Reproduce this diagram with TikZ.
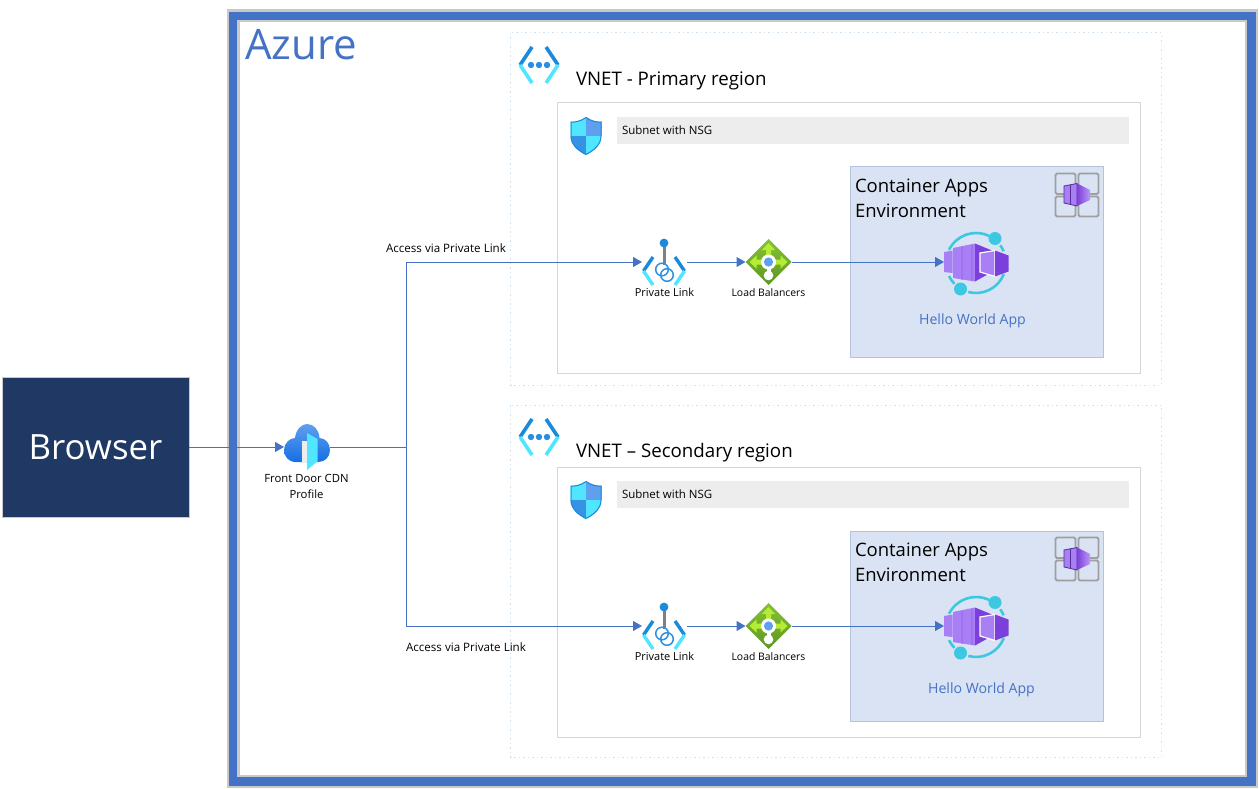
\documentclass[tikz,border=0pt]{standalone}
\usepackage{fontspec}
\setmainfont{Open Sans}
\usetikzlibrary{arrows.meta}
\definecolor{azblue}{HTML}{4472C4}
\definecolor{navybox}{HTML}{1F3864}
\definecolor{framegray}{HTML}{C9C9C9}
\definecolor{linegray}{HTML}{D6D6D6}
\definecolor{dotblue}{HTML}{CFE2F3}
\definecolor{envfill}{HTML}{DAE3F3}
\definecolor{envline}{HTML}{B4C2DE}
\definecolor{barfill}{HTML}{EDEDED}
\definecolor{iconblue}{HTML}{1B8ADB}
\definecolor{iconmid}{HTML}{5EA0EF}
\definecolor{iconcyan}{HTML}{50E6FF}
\definecolor{ringcyan}{HTML}{3BC8E0}
\definecolor{podlight}{HTML}{A97FF5}
\definecolor{poddark}{HTML}{7B3FDB}
\definecolor{lbtop}{HTML}{86C232}
\definecolor{lbbottom}{HTML}{5E9624}
\definecolor{lbarrow}{HTML}{B4EC36}
\newcommand{\fsize}[2]{\fontsize{#1}{#2}\selectfont}
\tikzset{
  x=1pt, y=-1pt,
  every node/.style = {inner sep=0pt, outer sep=0pt},
  flow/.style = {draw=azblue, line width=1pt},
  arrowed/.style = {flow, -{Triangle[length=9pt,width=10pt]}},
  iconbox/.style = {minimum height=1pt},
  small/.style = {font=\fsize{11}{16}, align=center},
  subhead/.style = {font=\fsize{18.5}{25}, align=left},
  vneticon/.pic = {
    \draw[iconblue, line width=3.6pt] (-7,-18) -- (-19,0) (7,-18) -- (19,0);
    \draw[iconcyan, line width=3.6pt] (-19,0) -- (-7,18) (19,0) -- (7,18);
    \fill[iconblue!80!iconmid] (-8,0) circle (3.2) (0,0) circle (3.2) (8,0) circle (3.2);
  },
  shieldicon/.pic = {
    \path[clip] (0,-19) .. controls (-6,-15) and (-11,-14) .. (-15.5,-14.5)
      -- (-15.5,0) .. controls (-15.5,9) and (-8,15) .. (0,19)
      .. controls (8,15) and (15.5,9) .. (15.5,0) -- (15.5,-14.5)
      .. controls (11,-14) and (6,-15) .. (0,-19) -- cycle;
    \fill[iconcyan] (-16,-20) rectangle (0,0);
    \fill[iconmid] (0,-20) rectangle (16,0);
    \fill[iconblue!60!iconmid] (-16,0) rectangle (0,20);
    \fill[iconcyan] (0,0) rectangle (16,20);
    \draw[iconblue, line width=2pt] (0,-19) .. controls (-6,-15) and (-11,-14) .. (-15.5,-14.5)
      -- (-15.5,0) .. controls (-15.5,9) and (-8,15) .. (0,19)
      .. controls (8,15) and (15.5,9) .. (15.5,0) -- (15.5,-14.5)
      .. controls (11,-14) and (6,-15) .. (0,-19) -- cycle;
  },
  linkicon/.pic = {
    \draw[gray, line width=3pt] (0,-19) -- (0,3);
    \fill[iconblue] (0,-19) circle (4.4);
    \draw[iconblue, line width=3.4pt] (-11,-5) -- (-20.5,9) (11,-5) -- (20.5,9);
    \draw[iconcyan, line width=3.4pt] (-20.5,9) -- (-11,23) (20.5,9) -- (11,23);
    \draw[iconblue!70!iconmid, line width=1.5pt] (-2,7.5) circle (6.3) (3,13) circle (6.3);
  },
  lbicon/.pic = {
    \shade[top color=lbtop, bottom color=lbbottom]
      (0,-23) -- (23,0) -- (0,23) -- (-23,0) -- cycle;
    \fill[lbarrow] (0,-19) -- (6.5,-12) -- (2.5,-12) -- (2.5,-6) -- (-2.5,-6)
      -- (-2.5,-12) -- (-6.5,-12) -- cycle;
    \fill[lbarrow] (-19,0) -- (-12,-6.5) -- (-12,-2.5) -- (-6,-2.5) -- (-6,2.5)
      -- (-12,2.5) -- (-12,6.5) -- cycle;
    \fill[lbarrow] (19,0) -- (12,-6.5) -- (12,-2.5) -- (6,-2.5) -- (6,2.5)
      -- (12,2.5) -- (12,6.5) -- cycle;
    \fill[white] (0,0) circle (7.5);
    \fill[white] (-2,0) rectangle (2,12);
    \fill[white] (0,13.5) circle (4.8);
    \fill[iconmid] (0,0) circle (4.6);
  },
  doorcloud/.pic = {
    \shade[top color=iconmid, bottom color=iconblue!80!blue]
      (-11,15) .. controls (-19,15) and (-23,9) .. (-23,3)
      .. controls (-23,-4) and (-17,-9) .. (-12,-9)
      .. controls (-11,-18) and (-5,-23) .. (0,-23)
      .. controls (7,-23) and (12,-17) .. (12.5,-9)
      .. controls (18,-9) and (23,-4) .. (23,3)
      .. controls (23,10) and (18,15) .. (11,15) -- cycle;
    \fill[barfill] (-5,-6) rectangle (0,15);
    \fill[iconcyan] (0,-14) -- (10.5,-8) -- (10.5,14.5) -- (0,23) -- cycle;
  },
  containericon/.pic = {
    \draw[ringcyan, line width=2.6pt]
      (206:30) arc[start angle=206, end angle=296, radius=30]
      (22:30) arc[start angle=22, end angle=105, radius=30]
      (136:30) arc[start angle=136, end angle=154, radius=30]
      (324:30) arc[start angle=324, end angle=337, radius=30];
    \fill[ringcyan] (19,-24.5) circle (6.5) (-15.5,26) circle (6.5);
    \fill[podlight] (-32,-11) -- (-23.5,-12.5) -- (-23.5,10) -- (-32,9) -- cycle;
    \fill[podlight] (-23,-15) -- (-1,-19.5) -- (-1,18.5) -- (-23,15) -- cycle;
    \fill[podlight!80!poddark] (-15,-16.5) rectangle (-13,16.5) (-5,-18) rectangle (-3,17.5);
    \fill[poddark] (-1,-19.5) -- (16,-12.5) -- (16,9) -- (-1,18.5) -- cycle;
    \filldraw[draw=white, line width=1.2pt, fill=podlight] (4,-10) -- (19,-12.5) -- (19,13.5) -- (4,9) -- cycle;
    \fill[poddark] (19,-12.5) -- (32.5,-7.5) -- (32.5,8.5) -- (19,13.5) -- cycle;
  },
  envicon/.pic = {
    \draw[gray!75, line width=1.9pt, rounded corners=1.5pt]
      (-21.5,-21.5) rectangle (-1.5,-1) (1.5,-21.5) rectangle (21.5,-1)
      (-21.5,1.5) rectangle (-1.5,21.5) (1.5,1.5) rectangle (21.5,21.5);
    \filldraw[draw=poddark!70!black, line width=.8pt, fill=podlight]
      (-13,-9) -- (0,-11.5) -- (0,11) -- (-13,8) -- cycle;
    \draw[poddark!70!black, line width=.8pt] (-7,-10) -- (-7,9.5);
    \shade[left color=poddark, right color=podlight!80!white]
      (0,-11.5) -- (13,-5) -- (13,5) -- (0,11) -- cycle;
  },
}
\begin{document}
\begin{tikzpicture}
  \useasboundingbox (0,0) rectangle (1259,789);
  % outer frame
  \draw[framegray, line width=13pt] (233,16) rectangle (1251.5,781.5);
  \draw[azblue, line width=8.5pt] (233,16) rectangle (1251.5,781.5);
  \node[font=\fsize{42}{46}, text=azblue, anchor=west] (azure) at (245,45) {Azure};

  \node[fill=navybox, text=white, font=\fsize{34.8}{40}, minimum width=187pt, minimum height=140pt,
    draw=framegray, line width=.5pt] (browser) at (95.5,447) {Browser};
  \node[iconbox, minimum width=46pt] (door) at (307,447) {};
  \pic at (307,447) {doorcloud};
  \node[small, font=\fsize{11.3}{16}] (doortext) at (306.5,486) {Front Door CDN\\Profile};
  \coordinate (split) at (406,447);
  \draw[arrowed] (browser) -- (door);
  \draw[flow] (door) -- (split);

  % the two regions
  \foreach \n/\dy/\vy/\vname/\hx/\hy in {a/0/0/{VNET - Primary region}/972.5/321,
      b/364/372/{VNET – Secondary region}/981.5/690} {
    \draw[dotblue, line width=1pt, dash pattern=on 1.5pt off 3pt] (510.5,33+\vy) rectangle (1161,385+\vy);
    \pic at (539,65+\vy) {vneticon};
    \node[font=\fsize{18.7}{22}, anchor=west] (vnet\n) at (576,80.5+\vy) {\vname};
    \draw[linegray, line width=1pt] (557,103+\dy) rectangle (1140,373+\dy);
    \pic at (586,136+\dy) {shieldicon};
    \node[fill=barfill, minimum width=512pt, minimum height=27pt] (bar\n) at (873,130.5+\dy) {};
    \node[font=\fsize{11.5}{13}, anchor=west] (subnet\n) at (622,130.5+\dy) {Subnet with NSG};
    \node[fill=envfill, draw=envline, line width=1pt, minimum width=253pt, minimum height=190pt]
      (env\n) at (976.5,262+\dy) {};
    \node[subhead, anchor=west] (envtext\n) at (855,198.5+\dy) {Container Apps\\Environment};
    \pic at (1077,195+\dy) {envicon};
    \node[iconbox, minimum width=45pt] (link\n) at (664.5,262+\dy) {};
    \pic at (664,262+\dy) {linkicon};
    \node[small] (linktext\n) at (664.5,292.5+\dy) {Private Link};
    \node[iconbox, minimum width=46pt] (lb\n) at (768.5,262+\dy) {};
    \pic at (768.5,262+\dy) {lbicon};
    \node[small, font=\fsize{10.4}{16}] (lbtext\n) at (768.5,292.5+\dy) {Load Balancers};
    \node[iconbox, minimum width=65pt] (app\n) at (976.5,262+\dy) {};
    \pic at (976,263+\dy) {containericon};
    \node[font=\fsize{14.1}{16}, text=azblue] (apptext\n) at (\hx,\hy) {Hello World App};
    \draw[arrowed] (split) |- (link\n.west);
    \draw[arrowed] (link\n.east) -- (lb\n.west);
    \draw[arrowed] (lb\n.east) -- (app\n.west);
  }
  \node[small, font=\fsize{11.6}{16}] (accessa) at (446,248) {Access via Private Link};
  \node[small, font=\fsize{11.6}{16}] (accessb) at (466,647) {Access via Private Link};
\end{tikzpicture}
\end{document}
